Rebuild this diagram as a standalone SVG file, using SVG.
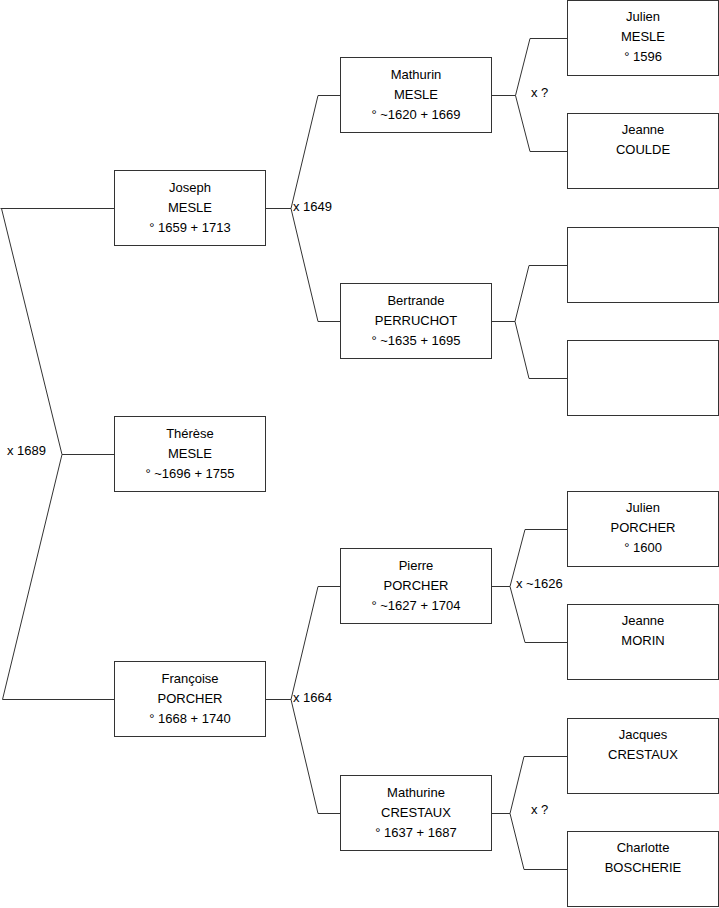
<svg xmlns="http://www.w3.org/2000/svg" width="719" height="908" viewBox="0 0 719 908">
<style>
.box{fill:#fff;stroke:#333;stroke-width:1}
.t{font-family:"Liberation Sans",Arial,sans-serif;font-size:13px;fill:#000;text-anchor:middle}
.l{font-family:"Liberation Sans",Arial,sans-serif;font-size:13px;fill:#000}
.c{fill:none;stroke:#333;stroke-width:1}
</style>
<rect width="719" height="908" fill="#fff"/>
<g id="connectors">
<path class="c" d="M0.5,208.5 H114.5 M1.5,208.5 L62,454.5 L2.5,699.5 H114.5 M62,454.5 H114.5"/>
<path class="c" d="M265.5,208.5 H291 L318,95.5 H340.5 M291,208.5 L318,321.5 H340.5"/>
<path class="c" d="M265.5,699.5 H291 L318,586.5 H340.5 M291,699.5 L318,813.5 H340.5"/>
<path class="c" d="M491.5,95.5 H515.5 L530,38.5 H567.5 M515.5,95.5 L530,151.5 H567.5"/>
<path class="c" d="M491.5,321.5 H515 L529,265.5 H567.5 M515,321.5 L529,378.5 H567.5"/>
<path class="c" d="M491.5,586.5 H510 L525,529.5 H567.5 M510,586.5 L525,642.5 H567.5"/>
<path class="c" d="M491.5,813.5 H510 L524,756.5 H567.5 M510,813.5 L524,869.5 H567.5"/>
<text class="l" x="7" y="455">x 1689</text>
<text class="l" x="293" y="211">x 1649</text>
<text class="l" x="293" y="702">x 1664</text>
<text class="l" x="531" y="97">x ?</text>
<text class="l" x="516" y="588">x ~1626</text>
<text class="l" x="531" y="814">x ?</text>
</g>
<g id="joseph"><rect class="box" x="114.5" y="170.5" width="151" height="75"/>
<text class="t" x="190" y="192">Joseph</text><text class="t" x="190" y="212">MESLE</text><text class="t" x="190" y="232">° 1659 + 1713</text></g>
<g id="therese"><rect class="box" x="114.5" y="416.5" width="151" height="75"/>
<text class="t" x="190" y="438">Thérèse</text><text class="t" x="190" y="458">MESLE</text><text class="t" x="190" y="478">° ~1696 + 1755</text></g>
<g id="francoise"><rect class="box" x="114.5" y="661.5" width="151" height="75"/>
<text class="t" x="190" y="683">Françoise</text><text class="t" x="190" y="703">PORCHER</text><text class="t" x="190" y="723">° 1668 + 1740</text></g>
<g id="mathurin"><rect class="box" x="340.5" y="57.5" width="151" height="75"/>
<text class="t" x="416" y="79">Mathurin</text><text class="t" x="416" y="99">MESLE</text><text class="t" x="416" y="119">° ~1620 + 1669</text></g>
<g id="bertrande"><rect class="box" x="340.5" y="283.5" width="151" height="75"/>
<text class="t" x="416" y="305">Bertrande</text><text class="t" x="416" y="325">PERRUCHOT</text><text class="t" x="416" y="345">° ~1635 + 1695</text></g>
<g id="pierre"><rect class="box" x="340.5" y="548.5" width="151" height="75"/>
<text class="t" x="416" y="570">Pierre</text><text class="t" x="416" y="590">PORCHER</text><text class="t" x="416" y="610">° ~1627 + 1704</text></g>
<g id="mathurine"><rect class="box" x="340.5" y="775.5" width="151" height="75"/>
<text class="t" x="416" y="797">Mathurine</text><text class="t" x="416" y="817">CRESTAUX</text><text class="t" x="416" y="837">° 1637 + 1687</text></g>
<g id="julien-mesle"><rect class="box" x="567.5" y="0.5" width="151" height="75"/>
<text class="t" x="643" y="21">Julien</text><text class="t" x="643" y="41">MESLE</text><text class="t" x="643" y="61">° 1596</text></g>
<g id="jeanne-coulde"><rect class="box" x="567.5" y="113.5" width="151" height="75"/>
<text class="t" x="643" y="134">Jeanne</text><text class="t" x="643" y="154">COULDE</text></g>
<g id="empty-1"><rect class="box" x="567.5" y="227.5" width="151" height="75"/></g>
<g id="empty-2"><rect class="box" x="567.5" y="340.5" width="151" height="75"/></g>
<g id="julien-porcher"><rect class="box" x="567.5" y="491.5" width="151" height="75"/>
<text class="t" x="643" y="512">Julien</text><text class="t" x="643" y="532">PORCHER</text><text class="t" x="643" y="552">° 1600</text></g>
<g id="jeanne-morin"><rect class="box" x="567.5" y="604.5" width="151" height="75"/>
<text class="t" x="643" y="625">Jeanne</text><text class="t" x="643" y="645">MORIN</text></g>
<g id="jacques-crestaux"><rect class="box" x="567.5" y="718.5" width="151" height="75"/>
<text class="t" x="643" y="739">Jacques</text><text class="t" x="643" y="759">CRESTAUX</text></g>
<g id="charlotte-boscherie"><rect class="box" x="567.5" y="831.5" width="151" height="75"/>
<text class="t" x="643" y="852">Charlotte</text><text class="t" x="643" y="872">BOSCHERIE</text></g>
</svg>
